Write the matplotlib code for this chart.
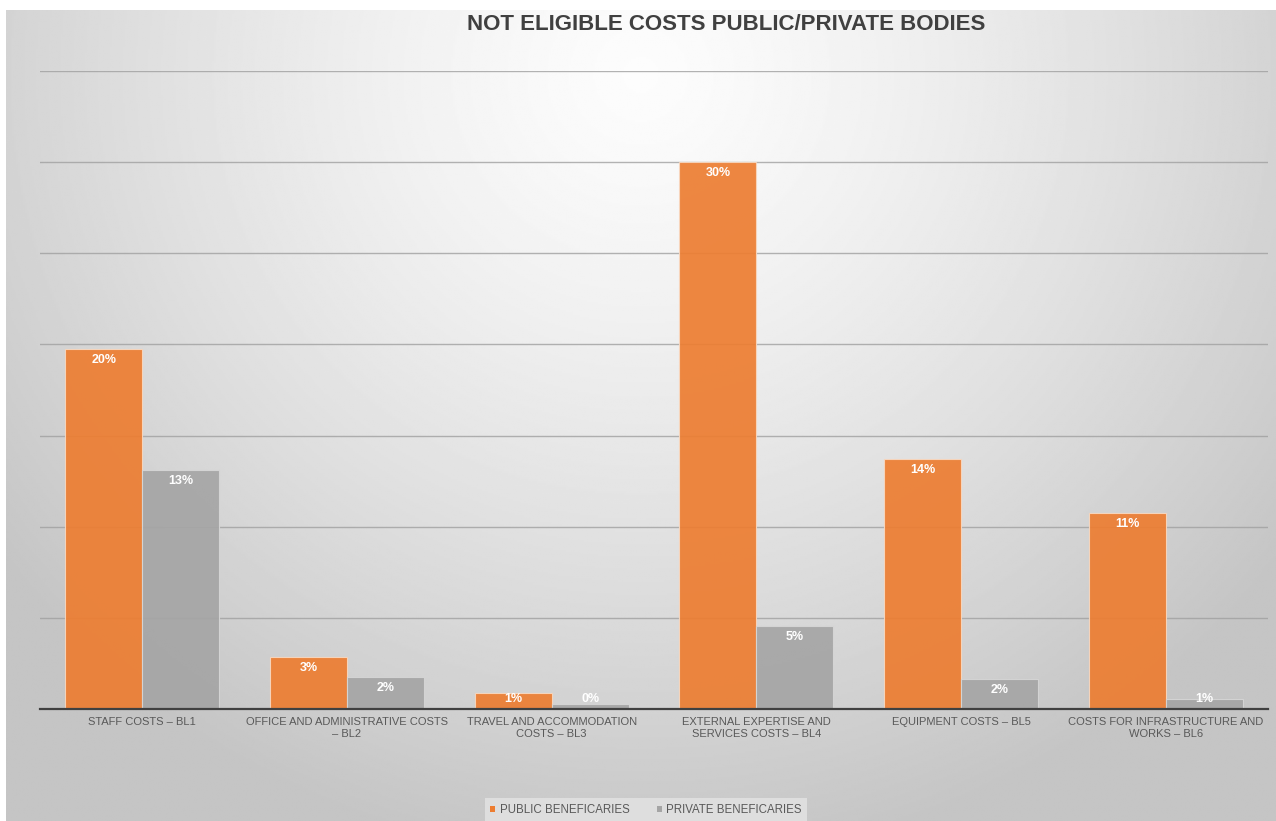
import numpy as np
import matplotlib
matplotlib.use("Agg")
import matplotlib.pyplot as plt
from matplotlib.patches import Patch

categories = [
    "STAFF COSTS \u2013 BL1",
    "OFFICE AND ADMINISTRATIVE COSTS\n\u2013 BL2",
    "TRAVEL AND ACCOMMODATION\nCOSTS \u2013 BL3",
    "EXTERNAL EXPERTISE AND\nSERVICES COSTS \u2013 BL4",
    "EQUIPMENT COSTS \u2013 BL5",
    "COSTS FOR INFRASTRUCTURE AND\nWORKS \u2013 BL6",
]
public = [19.75, 2.85, 0.88, 30.0, 13.7, 10.75]
private = [13.1, 1.75, 0.27, 4.55, 1.65, 0.55]
series_names = ["PUBLIC BENEFICARIES", "PRIVATE BENEFICARIES"]
yticks = [0, 5, 10, 15, 20, 25, 30, 35]

ORANGE = "#ed7d31"
GREY = "#a5a5a5"
W, H = 1276, 821
SANS = ["Liberation Sans", "DejaVu Sans"]

plt.rcParams["font.family"] = SANS

fig = plt.figure(figsize=(W / 100, H / 100), dpi=100)
fig.patch.set_facecolor("white")

# radial grey background, brightest near the top centre
bg = fig.add_axes([6 / W, 0, 1 - 6 / W, 1 - 10 / H])
bg.set_axis_off()
yy, xx = np.mgrid[0:1:400j, 0:1:700j]
r = np.sqrt(((xx - 0.5) / 0.75) ** 2 + ((yy - 0.08) / 1.15) ** 2)
shade = np.clip(0.99 - 0.27 * r ** 1.3, 0.77, 1)
bg.imshow(shade, cmap="gray", vmin=0, vmax=1, aspect="auto", extent=(0, 1, 1, 0))

ax = fig.add_axes([40 / W, (H - 709) / H, 1228 / W, (709 - 71) / H])
ax.patch.set_alpha(0)
x = np.arange(len(categories))
bw = 0.376
b1 = ax.bar(x - bw / 2, public, bw, color=ORANGE, alpha=0.92, edgecolor="#f8d8c0",
            linewidth=0.8, zorder=3)
b2 = ax.bar(x + bw / 2, private, bw, color=GREY, alpha=0.92, edgecolor="#d6d6d6",
            linewidth=0.8, zorder=3)

for bars, vals in ((b1, public), (b2, private)):
    for rect, v in zip(bars, vals):
        ax.text(rect.get_x() + rect.get_width() / 2, max(v - 0.6, 0.55), f"{v:.0f}%",
                ha="center", va="center", color="white", fontsize=9,
                fontweight="bold", zorder=4)

ax.set_xlim(-0.5, len(categories) - 0.5)
ax.set_ylim(0, 35)
ax.set_yticks(yticks)
ax.set_yticklabels([])
ax.tick_params(axis="y", length=0)
ax.tick_params(axis="x", length=0, pad=6)
ax.set_xticks(x)
ax.set_xticklabels(categories, fontsize=8, color="#595959", linespacing=1.15)
ax.grid(axis="y", color="#a0a0a0", linewidth=1, alpha=0.8, zorder=0)
for s in ("top", "right", "left"):
    ax.spines[s].set_visible(False)
ax.spines["bottom"].set_color("#404040")
ax.spines["bottom"].set_linewidth(1.6)
ax.spines["bottom"].set_zorder(5)

fig.text(726 / W, 1 - 24 / H, "NOT ELIGIBLE COSTS PUBLIC/PRIVATE BODIES",
         ha="center", va="center", fontsize=16, fontweight="bold", color="#404040")

handles = [Patch(facecolor=ORANGE), Patch(facecolor=GREY)]
leg = fig.legend(handles, series_names, loc="center", bbox_to_anchor=(646 / W, 1 - 810 / H),
                 ncol=2, frameon=True, handlelength=0.4, handleheight=0.4,
                 handletextpad=0.4, columnspacing=2.4, borderpad=0.5,
                 prop={"size": 8.3})
leg.get_frame().set_facecolor("#e4e4e4")
leg.get_frame().set_edgecolor("none")
leg.get_frame().set_boxstyle("square", pad=0)
for t in leg.get_texts():
    t.set_color("#595959")

fig.savefig("out.png", dpi=100)
